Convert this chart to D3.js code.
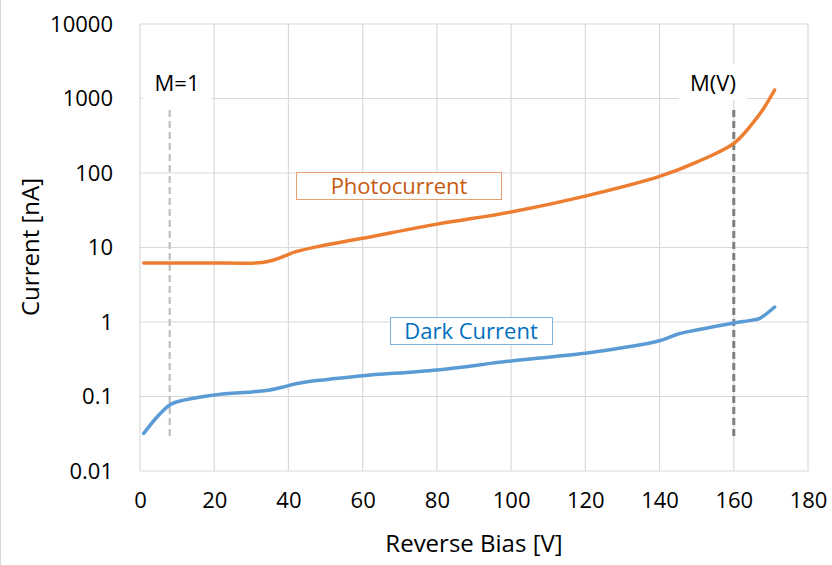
<!DOCTYPE html>
<html><head><meta charset="utf-8">
<script src="https://cdn.jsdelivr.net/npm/d3@7"></script>
<style>
html,body{margin:0;padding:0;background:#fff;}
svg{display:block;font-family:"Open Sans",sans-serif;}
</style></head>
<body>
<svg id="chart" width="832" height="565"></svg>
<script>
const xTicks = [0, 20, 40, 60, 80, 100, 120, 140, 160, 180];
const yTicks = [0.01, 0.1, 1, 10, 100, 1000, 10000];
const yTickLabels = ["0.01", "0.1", "1", "10", "100", "1000", "10000"];

const photoV = [1, 10, 20, 28, 33, 36, 39, 42, 50, 60, 80, 100, 120, 140, 150, 160, 165, 168, 171];
const photoI = [6.2, 6.2, 6.2, 6.15, 6.3, 6.8, 7.7, 8.8, 10.8, 13.3, 20.6, 30, 49, 90, 140, 250, 460, 730, 1300];

const darkV = [1, 5, 8, 10, 20, 30, 34, 38, 42, 46, 50, 60, 80, 100, 120, 130, 140, 145, 150, 160, 165, 167, 171];
const darkI = [0.032, 0.056, 0.077, 0.085, 0.105, 0.115, 0.12, 0.132, 0.148, 0.16, 0.168, 0.19, 0.227, 0.30, 0.38, 0.45, 0.56, 0.69, 0.78, 0.97, 1.06, 1.12, 1.59];

const markers = [
  {v: 8, label: "M=1", color: "#bfbfbf", width: 2.2, cx: 177},
  {v: 160, label: "M(V)", color: "#7f7f7f", width: 3, cx: 713}
];

const svg = d3.select("#chart");
const L = 140, R = 808, T = 24, B = 471;
const x = d3.scaleLinear().domain([0, 180]).range([L, R]);
const y = d3.scaleLog().domain([0.01, 10000]).range([B, T]);

svg.append("line").attr("x1", 0.5).attr("x2", 0.5).attr("y1", 0).attr("y2", 565)
  .attr("stroke", "#d9d9d9").attr("stroke-width", 1);

const grid = svg.append("g");
grid.selectAll(".vg").data(xTicks).join("line")
  .attr("x1", d => x(d)).attr("x2", d => x(d)).attr("y1", T).attr("y2", B)
  .attr("stroke", "#d9d9d9").attr("stroke-width", 1.2);
grid.selectAll(".hg").data(yTicks).join("line")
  .attr("x1", L).attr("x2", R).attr("y1", d => y(d)).attr("y2", d => y(d))
  .attr("stroke", "#d9d9d9").attr("stroke-width", 1.2);

const xAxis = d3.axisBottom(x).tickValues(xTicks).tickSize(0).tickPadding(0).tickFormat(d3.format("d"));
const gx = svg.append("g").attr("transform", `translate(0,${B + 21})`).call(xAxis);
gx.select(".domain").remove();
gx.selectAll("text").attr("font-size", 22).attr("fill", "#000").attr("dy", "0.71em")
  .attr("font-family", "'Open Sans',sans-serif");

const yAxis = d3.axisLeft(y).tickValues(yTicks).tickSize(0).tickPadding(0)
  .tickFormat((d, i) => yTickLabels[i]);
const gy = svg.append("g").attr("transform", `translate(${L - 27},0)`).call(yAxis);
gy.select(".domain").remove();
gy.selectAll("text").attr("font-size", 22).attr("fill", "#000")
  .attr("font-family", "'Open Sans',sans-serif");

svg.append("text").attr("x", 474).attr("y", 552).attr("text-anchor", "middle")
  .attr("font-size", 24).attr("fill", "#000").text("Reverse Bias [V]");
svg.append("text").attr("transform", "translate(39,247) rotate(-90)").attr("text-anchor", "middle")
  .attr("font-size", 24).attr("fill", "#000").text("Current [nA]");

markers.forEach(m => {
  svg.append("rect").attr("x", m.cx - 34).attr("y", 64).attr("width", 68).attr("height", 36)
    .attr("fill", "#fff");
  svg.append("text").attr("x", m.cx).attr("y", 91).attr("text-anchor", "middle")
    .attr("font-size", 22).attr("fill", "#000").text(m.label);
});

svg.selectAll(".mk").data(markers).join("line")
  .attr("x1", d => x(d.v)).attr("x2", d => x(d.v))
  .attr("y1", 110).attr("y2", 436)
  .attr("stroke", d => d.color).attr("stroke-width", d => d.width)
  .attr("stroke-dasharray", "7,4");

const line = d3.line().x(d => x(d[0])).y(d => y(d[1])).curve(d3.curveCatmullRom.alpha(0.5));
const photo = photoV.map((v, i) => [v, photoI[i]]);
const dark = darkV.map((v, i) => [v, darkI[i]]);
svg.append("path").datum(photo).attr("d", line).attr("fill", "none")
  .attr("stroke", "#ED7D31").attr("stroke-width", 3.5).attr("stroke-linecap", "round");
svg.append("path").datum(dark).attr("d", line).attr("fill", "none")
  .attr("stroke", "#5B9BD5").attr("stroke-width", 3.5).attr("stroke-linecap", "round");

svg.append("rect").attr("x", 296.5).attr("y", 172.5).attr("width", 205).attr("height", 27)
  .attr("fill", "#fff").attr("stroke", "#E8A070").attr("stroke-width", 1);
svg.append("text").attr("x", 399).attr("y", 194).attr("text-anchor", "middle")
  .attr("font-size", 22).attr("fill", "#C55A11").text("Photocurrent");
svg.append("rect").attr("x", 390.5).attr("y", 317.5).attr("width", 162).attr("height", 27)
  .attr("fill", "#fff").attr("stroke", "#7FB2E0").attr("stroke-width", 1);
svg.append("text").attr("x", 471).attr("y", 339).attr("text-anchor", "middle")
  .attr("font-size", 22).attr("fill", "#0070C0").text("Dark Current");
</script>
</body></html>
